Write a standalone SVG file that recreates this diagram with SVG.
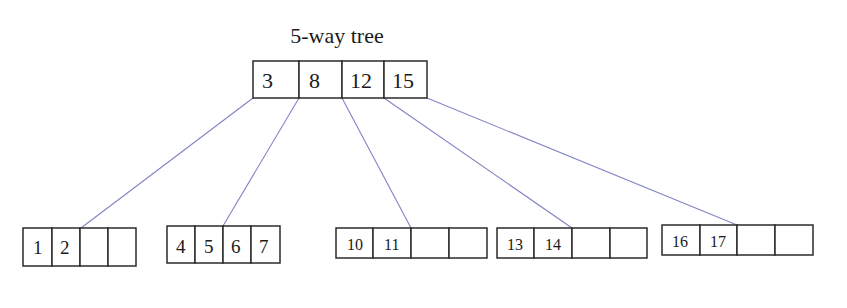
<svg xmlns="http://www.w3.org/2000/svg" width="847" height="308" viewBox="0 0 847 308">
<style>
.cell{fill:#fff;stroke:#2b2b2b;stroke-width:1.5}
.t{font-family:"Liberation Serif","Times New Roman",serif;fill:#1a1a1a}
.big{font-size:22px}
.mid{font-size:19px}
.sm{font-size:16px}
.edge{stroke:#8084c4;stroke-width:1.1;fill:none}
</style>
<rect width="847" height="308" fill="#fff"/>
<text class="t big" x="337" y="43" text-anchor="middle">5-way tree</text>
<g id="connectors">
<line class="edge" x1="253" y1="98" x2="81" y2="228"/>
<line class="edge" x1="299" y1="98" x2="223" y2="226"/>
<line class="edge" x1="342" y1="98" x2="411" y2="228"/>
<line class="edge" x1="384" y1="98" x2="572" y2="228"/>
<line class="edge" x1="427" y1="98" x2="737" y2="225"/>
</g>
<g id="root">
<rect class="cell" x="253" y="61" width="46" height="37"/>
<rect class="cell" x="299" y="61" width="43" height="37"/>
<rect class="cell" x="342" y="61" width="42" height="37"/>
<rect class="cell" x="384" y="61" width="43" height="37"/>
<text class="t big" x="262" y="88">3</text>
<text class="t big" x="309" y="88">8</text>
<text class="t big" x="350" y="88">12</text>
<text class="t big" x="392" y="88">15</text>
</g>
<g id="leaf1">
<rect class="cell" x="23" y="228" width="29" height="38"/>
<rect class="cell" x="52" y="228" width="28" height="38"/>
<rect class="cell" x="80" y="228" width="28" height="38"/>
<rect class="cell" x="108" y="228" width="28" height="38"/>
<text class="t mid" x="33" y="254">1</text>
<text class="t mid" x="60" y="254">2</text>
</g>
<g id="leaf2">
<rect class="cell" x="167" y="226" width="28" height="37"/>
<rect class="cell" x="195" y="226" width="28" height="37"/>
<rect class="cell" x="223" y="226" width="28" height="37"/>
<rect class="cell" x="251" y="226" width="29" height="37"/>
<text class="t mid" x="176" y="253">4</text>
<text class="t mid" x="204" y="253">5</text>
<text class="t mid" x="231" y="253">6</text>
<text class="t mid" x="259" y="253">7</text>
</g>
<g id="leaf3">
<rect class="cell" x="336" y="228" width="37" height="30"/>
<rect class="cell" x="373" y="228" width="38" height="30"/>
<rect class="cell" x="411" y="228" width="38" height="30"/>
<rect class="cell" x="449" y="228" width="38" height="30"/>
<text class="t sm" x="347" y="250">10</text>
<text class="t sm" x="384" y="250">11</text>
</g>
<g id="leaf4">
<rect class="cell" x="497" y="228" width="37" height="30"/>
<rect class="cell" x="534" y="228" width="38" height="30"/>
<rect class="cell" x="572" y="228" width="38" height="30"/>
<rect class="cell" x="610" y="228" width="37" height="30"/>
<text class="t sm" x="507" y="250">13</text>
<text class="t sm" x="545" y="250">14</text>
</g>
<g id="leaf5">
<rect class="cell" x="662" y="225" width="38" height="30"/>
<rect class="cell" x="700" y="225" width="37" height="30"/>
<rect class="cell" x="737" y="225" width="38" height="30"/>
<rect class="cell" x="775" y="225" width="38" height="30"/>
<text class="t sm" x="672" y="247">16</text>
<text class="t sm" x="710" y="247">17</text>
</g>
</svg>
